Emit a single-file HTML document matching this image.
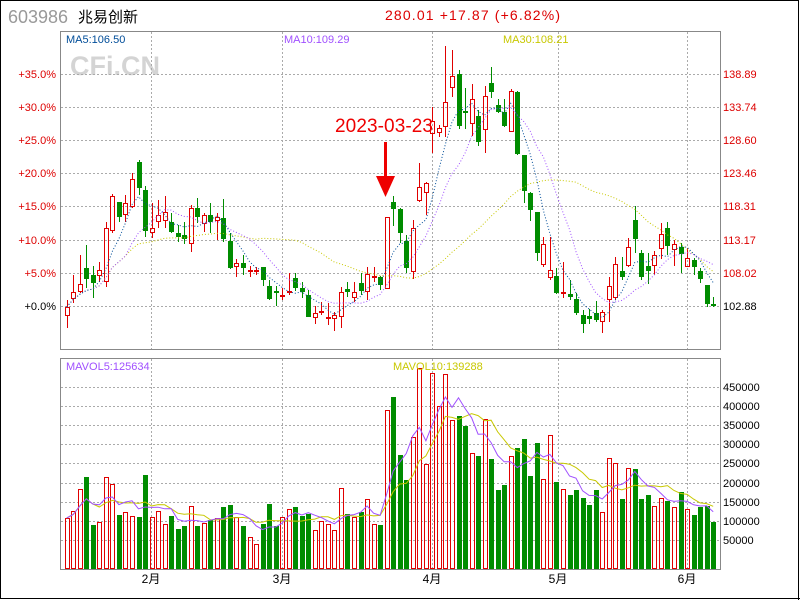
<!DOCTYPE html>
<html><head><meta charset="utf-8"><style>
html,body{margin:0;padding:0;background:#fff;}
svg{display:block;}
text{font-family:"Liberation Sans","Noto Sans CJK SC",sans-serif;}
</style></head><body>
<svg id="s" width="800" height="600" xmlns="http://www.w3.org/2000/svg">
<rect x="0" y="0" width="800" height="600" fill="#fff"/>
<rect x="0.5" y="0.5" width="798" height="598" fill="none" stroke="#000" stroke-width="1"/>
<line x1="798.5" y1="0" x2="798.5" y2="600" stroke="#000"/>
<line x1="0" y1="598.5" x2="800" y2="598.5" stroke="#000"/>
<text x="8" y="23" font-size="18" fill="#999">603986</text>
<text x="78" y="22" font-size="15" fill="#000" font-family="Liberation Sans,Noto Sans CJK SC,sans-serif">兆易创新</text>
<text x="385" y="20" font-size="14" fill="#d00" font-family="Liberation Mono,monospace" textLength="175">280.01 +17.87 (+6.82%)</text>
<text x="70" y="75" font-size="27" font-weight="bold" fill="#d4d4d4">CFi.CN</text>
<g id="grid"></g>
<g id="plot"></g>
<g id="mas"></g>
<rect x="60.5" y="31.5" width="660" height="318" fill="none" stroke="#888"/>
<rect x="60.5" y="358.5" width="660" height="211" fill="none" stroke="#888"/>
<text x="66" y="43" font-size="11" fill="#004d99" font-family="Liberation Mono,monospace">MA5:106.50</text>
<text x="284" y="43" font-size="11" fill="#a050ff" font-family="Liberation Mono,monospace">MA10:109.29</text>
<text x="503" y="43" font-size="11" fill="#c8c800" font-family="Liberation Mono,monospace">MA30:108.21</text>
<text x="66" y="370" font-size="11" fill="#a050ff" font-family="Liberation Mono,monospace">MAVOL5:125634</text>
<text x="393" y="370" font-size="11" fill="#c8c800" font-family="Liberation Mono,monospace">MAVOL10:139288</text>
<text x="335" y="132" font-size="19" fill="#e00" font-family="Liberation Mono,monospace" textLength="98">2023-03-23</text>
<rect x="384" y="142" width="3" height="38" fill="#e00"/>
<polygon points="376,176 395,176 385.5,197" fill="#e00"/>
</svg>
<script>
var C=[[307,316,300,328,1],[292,299,275,303,1],[284,292,255,293,1],[268,279,245,288,0],[275,283,266,298,0],[270,276,262,282,1],[228,282,222,287,1],[196,231,194,233,1],[202,217,202,222,0],[203,215,195,222,1],[179,207,173,208,1],[162,188,160,195,0],[190,231,186,237,0],[228,233,203,238,1],[215,222,200,228,1],[212,221,196,228,1],[222,232,213,233,0],[233,237,225,242,0],[235,239,222,244,0],[208,244,205,252,1],[208,217,198,223,0],[215,224,213,232,1],[215,222,203,233,0],[217,221,213,240,1],[218,239,199,242,0],[241,268,233,269,0],[263,267,259,277,1],[263,268,255,275,0],[270,272,266,277,1],[270,272,267,275,1],[267,280,267,286,0],[286,299,280,300,0],[291,293,286,306,0],[295,297,288,300,1],[291,293,273,295,1],[278,288,273,291,0],[288,292,282,298,0],[295,317,290,317,0],[313,318,306,324,1],[311,313,302,315,1],[317,319,303,325,1],[315,319,312,331,1],[292,317,287,328,1],[289,292,282,297,0],[292,298,282,302,1],[283,291,273,295,0],[274,292,267,300,1],[276,278,267,282,1],[277,285,276,290,0],[217,289,217,289,1],[202,209,196,226,0],[209,233,208,243,0],[241,268,235,273,0],[228,272,220,279,1],[187,201,163,202,1],[183,193,182,215,1],[121,134,107,153,1],[128,133,125,137,1],[102,127,46,137,1],[76,88,50,97,1],[74,126,70,129,0],[111,113,88,129,0],[99,124,84,136,1],[116,142,110,146,0],[96,130,86,153,1],[83,92,67,98,0],[105,112,99,113,0],[112,126,99,127,0],[91,132,89,132,1],[92,154,91,155,0],[155,191,155,203,0],[193,210,192,221,0],[212,253,212,261,0],[244,265,237,267,1],[270,278,237,280,1],[276,293,268,294,0],[292,294,262,298,1],[294,297,280,300,0],[299,313,293,315,0],[315,324,310,333,0],[316,319,309,324,0],[313,320,301,322,0],[312,322,310,333,1],[286,300,277,322,1],[264,298,257,300,1],[271,277,257,280,0],[247,266,238,267,1],[220,239,206,253,0],[253,277,250,280,0],[266,271,253,284,0],[255,266,251,275,1],[234,249,223,259,1],[228,246,222,255,0],[244,250,240,266,1],[247,254,243,273,0],[258,267,248,267,1],[260,267,258,275,0],[271,279,268,283,0],[285,304,285,307,0],[304,305,297,307,0]];
var V=[518,511,489,477,525,522,477,484,515,512,516,517,475,517,511,524,516,529,526,506,526,523,520,518,507,505,517,526,537,544,524,504,526,517,509,507,516,514,530,521,524,530,488,514,517,512,499,524,525,410,397,455,480,437,368,464,373,406,374,420,416,426,453,456,419,459,490,485,456,448,439,476,443,479,435,482,489,495,490,498,505,490,512,458,463,499,468,469,499,495,506,498,501,507,492,509,515,507,506,522];
var R='#e00000',G='#008c00',s='';
var g='';
[74,107,140,173,206,240,273,306].forEach(function(y){g+='<line x1="61" y1="'+(y+.5)+'" x2="720" y2="'+(y+.5)+'" stroke="#aaa" stroke-dasharray="2 2"/>';});
for(var k=0;k<9;k++){var y=Math.round(387+19.1*k);g+='<line x1="61" y1="'+(y+.5)+'" x2="720" y2="'+(y+.5)+'" stroke="#aaa" stroke-dasharray="2 2"/>';}
[151,282,432,558,687].forEach(function(x){g+='<line x1="'+(x+.5)+'" y1="32" x2="'+(x+.5)+'" y2="349" stroke="#aaa" stroke-dasharray="2 2"/><line x1="'+(x+.5)+'" y1="359" x2="'+(x+.5)+'" y2="569" stroke="#aaa" stroke-dasharray="2 2"/>';});
var L=[['+35.0%',74],['+30.0%',107],['+25.0%',140],['+20.0%',173],['+15.0%',206],['+10.0%',240],['+5.0%',273],['+0.0%',306]];
L.forEach(function(a){g+='<text x="56" y="'+(a[1]+4)+'" font-size="11" text-anchor="end" fill="'+(a[0]=='+0.0%'?'#000':'#d00')+'">'+a[0]+'</text>';});
var P=[['138.89',74],['133.74',107],['128.60',140],['123.46',173],['118.31',206],['113.17',240],['108.02',273],['102.88',306]];
P.forEach(function(a){g+='<text x="723" y="'+(a[1]+4)+'" font-size="11" fill="'+(a[0]=='102.88'?'#000':'#d00')+'">'+a[0]+'</text>';});
for(var k=0;k<9;k++){var y=Math.round(387+19.1*k);g+='<text x="723" y="'+(y+4)+'" font-size="11" fill="#000">'+(450000-50000*k)+'</text>';}
[['2月',151],['3月',282],['4月',432],['5月',558],['6月',687]].forEach(function(a){g+='<text x="'+a[1]+'" y="583" font-size="12" text-anchor="middle" fill="#000">'+a[0]+'</text>';});
document.getElementById('grid').innerHTML=g;
function X(i){return 66.7+6.53*i;}
var cl=C.map(function(c){return c[4]?c[0]:c[1];});
var vh=V.map(function(v){return 569-v;});
function ma(arr,n){return arr.map(function(_,i){var a=Math.max(0,i-n+1),t=0;for(var j=a;j<=i;j++)t+=arr[j];return t/(i-a+1);});}
function pl(arr,col,dash,f){var p=arr.map(function(v,i){return X(i).toFixed(1)+','+(f?f(v):v).toFixed(1);}).join(' ');return '<polyline points="'+p+'" fill="none" stroke="'+col+'" stroke-width="1"'+(dash?' stroke-dasharray="1 2"':'')+'/>';}
function box(x,y,w,h,col){ // hollow box via 4 filled rects
 return '<rect x="'+x+'" y="'+y+'" width="'+w+'" height="1" fill="'+col+'"/>'+
 '<rect x="'+x+'" y="'+(y+h-1)+'" width="'+w+'" height="1" fill="'+col+'"/>'+
 '<rect x="'+x+'" y="'+y+'" width="1" height="'+h+'" fill="'+col+'"/>'+
 '<rect x="'+(x+w-1)+'" y="'+y+'" width="1" height="'+h+'" fill="'+col+'"/>';}
C.forEach(function(c,i){var x0=Math.round(X(i))-2,col=c[4]?R:G;
 var t=c[0],b=Math.max(c[1],c[0]+2);
 if(c[4]){
  if(c[2]<t) s+='<rect x="'+(x0+2)+'" y="'+c[2]+'" width="1" height="'+(t-c[2])+'" fill="'+col+'"/>';
  if(c[3]>b) s+='<rect x="'+(x0+2)+'" y="'+b+'" width="1" height="'+(c[3]-b)+'" fill="'+col+'"/>';
  s+=box(x0,t,5,b-t,col);
 } else {
  s+='<rect x="'+(x0+2)+'" y="'+c[2]+'" width="1" height="'+(c[3]-c[2])+'" fill="'+col+'"/>';
  s+='<rect x="'+x0+'" y="'+t+'" width="5" height="'+(b-t)+'" fill="'+col+'"/>';
 }
 var vt=V[i];
 if(c[4]) s+=box(x0,vt,5,569-vt,R);
 else s+='<rect x="'+x0+'" y="'+vt+'" width="5" height="'+(569-vt)+'" fill="'+G+'"/>';
});
document.getElementById('plot').innerHTML=s;
var m='';
m+=pl(ma(cl,30),'#c8c800',1);
m+=pl(ma(cl,10),'#a050ff',1);
m+=pl(ma(cl,5),'#004d99',1);
m+=pl(ma(vh,10),'#c8c800',0,function(v){return 569-v;});
m+=pl(ma(vh,5),'#a050ff',0,function(v){return 569-v;});
document.getElementById('mas').innerHTML=m;
</script>
</body></html>
